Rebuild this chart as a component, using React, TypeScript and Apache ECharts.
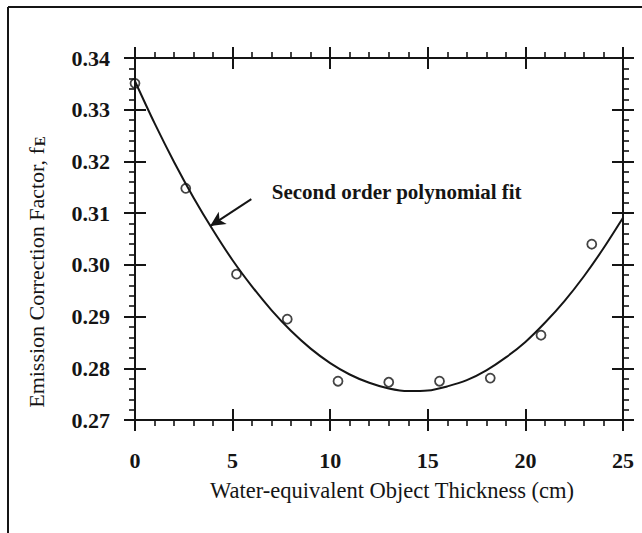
import React, { useEffect, useRef } from "react";
import * as echarts from "echarts";

// Measured data points (Water-equivalent object thickness in cm vs emission correction factor)
const thickness = [0, 2.6, 5.2, 7.8, 10.4, 13.0, 15.6, 18.2, 20.8, 23.4];
const factor = [0.3351, 0.3148, 0.2982, 0.2895, 0.2775, 0.2773, 0.2775, 0.2781, 0.2864, 0.304];

// Second order polynomial fit curve, values at each cm
const fitX = [0, 1, 2, 3, 4, 5, 6, 7, 8, 9, 10, 11, 12, 13, 14, 15, 16, 17, 18, 19, 20, 21, 22, 23, 24, 25];
const fitY = [
  0.3355, 0.3274, 0.3199, 0.313, 0.3067, 0.3009, 0.2958, 0.2912, 0.2872, 0.2838, 0.281, 0.2788, 0.2772,
  0.2761, 0.2756, 0.2757, 0.2765, 0.2777, 0.2796, 0.2821, 0.2851, 0.2888, 0.293, 0.2978, 0.3032, 0.3091,
];

// Axis ranges / tick steps
const xRange = [0, 25];
const xStep = 5;
const yRange = [0.27, 0.34];
const yStep = 0.01;

// Annotation (data coordinates)
const annotationText = "Second order polynomial fit";
const arrowFrom = [5.96, 0.3127];
const arrowTo = [3.85, 0.3075];
const annotationAt = [6.98, 0.3141];

const xTitle = "Water-equivalent Object Thickness (cm)";
const yTitle = "Emission Correction Factor, f";
const yTitleSub = "E";

const FONT = "'Liberation Serif', 'Times New Roman', serif";
const INK = "#151515";

function xAxisDef(position: "top" | "bottom", primary: boolean) {
  return {
    type: "value",
    position,
    min: xRange[0],
    max: xRange[1],
    interval: xStep,
    axisLine: { show: primary, onZero: false, lineStyle: { color: INK, width: 2 } },
    axisTick: { show: true, inside: !primary, length: 11, lineStyle: { color: INK, width: 2 } },
    minorTick: { show: primary, splitNumber: 5, length: 6, lineStyle: { color: INK, width: 1.6 } },
    axisLabel: {
      show: primary && position === "bottom",
      margin: 29,
      fontSize: 22,
      fontWeight: "bold",
      fontFamily: FONT,
      color: INK,
    },
    splitLine: { show: false },
    minorSplitLine: { show: false },
  };
}

function yAxisDef(position: "left" | "right", primary: boolean) {
  return {
    type: "value",
    position,
    min: yRange[0],
    max: yRange[1],
    interval: yStep,
    axisLine: { show: primary, onZero: false, lineStyle: { color: INK, width: 2 } },
    axisTick: { show: true, inside: !primary, length: 11, lineStyle: { color: INK, width: 2 } },
    minorTick: { show: primary, splitNumber: 5, length: 6, lineStyle: { color: INK, width: 1.6 } },
    axisLabel: {
      show: primary && position === "left",
      margin: 25,
      fontSize: 22,
      fontWeight: "bold",
      fontFamily: FONT,
      color: INK,
      formatter: (v: number) => v.toFixed(2),
    },
    splitLine: { show: false },
    minorSplitLine: { show: false },
  };
}

export default function App() {
  const ref = useRef<HTMLDivElement>(null);

  useEffect(() => {
    if (!ref.current) return;
    const chart = echarts.init(ref.current, undefined, { renderer: "svg" });
    chart.setOption({
      animation: false,
      backgroundColor: "#ffffff",
      grid: { left: 135, right: 19, top: 58, bottom: 113, containLabel: false },
      xAxis: [
        xAxisDef("bottom", true),
        xAxisDef("bottom", false),
        xAxisDef("top", true),
        xAxisDef("top", false),
      ],
      yAxis: [
        yAxisDef("left", true),
        yAxisDef("left", false),
        yAxisDef("right", true),
        yAxisDef("right", false),
      ],
      series: [
        {
          type: "line",
          name: "fit",
          xAxisIndex: 0,
          yAxisIndex: 0,
          data: fitX.map((x, i) => [x, fitY[i]]),
          smooth: 0.3,
          showSymbol: false,
          lineStyle: { color: INK, width: 2 },
          z: 2,
          markLine: {
            silent: true,
            symbol: ["none", "arrow"],
            symbolSize: [11, 15],
            label: { show: false },
            lineStyle: { color: INK, width: 2, type: "solid" },
            data: [[{ coord: arrowFrom }, { coord: arrowTo }]],
          },
          markPoint: {
            silent: true,
            data: [
              {
                coord: annotationAt,
                symbol: "circle",
                symbolSize: 1,
                itemStyle: { color: "transparent" },
                label: {
                  show: true,
                  position: "right",
                  distance: 0,
                  formatter: annotationText,
                  fontSize: 21,
                  fontWeight: "bold",
                  fontFamily: FONT,
                  color: INK,
                },
              },
            ],
          },
        },
        {
          type: "scatter",
          name: "measured",
          xAxisIndex: 0,
          yAxisIndex: 0,
          data: thickness.map((x, i) => [x, factor[i]]),
          symbol: "circle",
          symbolSize: 9,
          itemStyle: { color: "transparent", borderColor: INK, borderWidth: 1.8 },
          z: 3,
        },
      ],
      graphic: [
        {
          type: "line",
          shape: { x1: 8, y1: 7, x2: 642, y2: 7 },
          style: { stroke: INK, lineWidth: 2 },
        },
        {
          type: "line",
          shape: { x1: 8, y1: 7, x2: 8, y2: 533 },
          style: { stroke: INK, lineWidth: 2 },
        },
        {
          type: "text",
          x: 392,
          y: 490,
          style: {
            text: xTitle,
            fontSize: 22.5,
            fontFamily: FONT,
            fill: INK,
            align: "center",
            verticalAlign: "middle",
          },
        },
        {
          type: "text",
          x: 36,
          y: 272,
          rotation: Math.PI / 2,
          style: {
            text: `{a|${yTitle}}{b|${yTitleSub}}`,
            align: "center",
            verticalAlign: "middle",
            fill: INK,
            rich: {
              a: { fontSize: 22, fontFamily: FONT, fill: INK, lineHeight: 22, verticalAlign: "top" },
              b: {
                fontSize: 15,
                fontWeight: "bold",
                fontFamily: FONT,
                fill: INK,
                lineHeight: 15,
                verticalAlign: "bottom",
                padding: [10, 0, 0, 1],
              },
            },
          },
        },
      ],
    });
    return () => chart.dispose();
  }, []);

  return (
    <div
      ref={ref}
      style={{ position: "fixed", left: 0, top: 0, width: 642, height: 533, background: "#fff" }}
    />
  );
}
